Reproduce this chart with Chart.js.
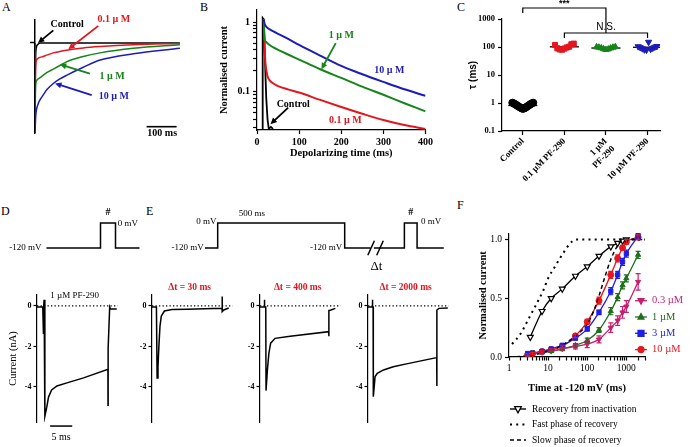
<!DOCTYPE html>
<html>
<head>
<meta charset="utf-8">
<script src="https://cdn.jsdelivr.net/npm/chart.js@4.4.1/dist/chart.umd.min.js"></script>
<style>
  html, body { margin: 0; padding: 0; background: #fff; }
  #fig { position: relative; width: 695px; height: 447px; overflow: hidden; font-family: 'Liberation Serif', 'Times New Roman', serif; }
  .lbl { position: absolute; font-size: 12px; color: #000; line-height: 14px; }
</style>
</head>
<body>
<div id="fig">
  <div class="lbl" style="left:2px;top:0px">A</div>
  <div class="lbl" style="left:200px;top:0px">B</div>
  <div class="lbl" style="left:457px;top:0px">C</div>
  <div class="lbl" style="left:1px;top:204px">D</div>
  <div class="lbl" style="left:146px;top:204px">E</div>
  <div class="lbl" style="left:457px;top:198px">F</div>
</div>
<script>
const SERIF = "'Liberation Serif', 'Times New Roman', serif";
const SANS = "'Liberation Sans', Arial, sans-serif";

// ---------- A: normalised current traces (ms, fraction of peak) ----------
const timeA = [0, 0.2, 0.7, 1.2, 2, 3, 5, 10, 17, 27, 39, 61, 83, 105, 161, 217, 328, 483];
const ctrlA = [0, -1, -0.55, -0.32, -0.15, -0.08, -0.04, -0.015, 0, 0, 0, 0, 0, 0, 0, 0, 0, 0];
const pf01A = [0, -1, -0.6, -0.4, -0.27, -0.22, -0.19, -0.17, -0.16, -0.15, -0.135, -0.11, -0.095, -0.08, -0.055, -0.04, -0.02, -0.005];
const pf1A  = [0, -1, -0.75, -0.6, -0.48, -0.44, -0.42, -0.4, -0.385, -0.36, -0.33, -0.29, -0.25, -0.21, -0.15, -0.11, -0.06, -0.02];
const pf10A = [0, -1, -0.95, -0.9, -0.84, -0.79, -0.74, -0.68, -0.63, -0.58, -0.52, -0.45, -0.4, -0.36, -0.27, -0.19, -0.12, -0.06];

// ---------- B: normalised current on log scale ----------
const timeB  = [16, 18, 20, 23, 26, 30, 40, 50, 75, 100, 150, 200, 250, 300, 350, 400];
const pf10B  = [1.1, 0.95, 0.9, 0.85, 0.82, 0.79, 0.73, 0.68, 0.57, 0.47, 0.33, 0.235, 0.178, 0.138, 0.108, 0.087];
const pf1B   = [1.1, 0.57, 0.53, 0.51, 0.49, 0.47, 0.43, 0.4, 0.34, 0.29, 0.21, 0.158, 0.118, 0.09, 0.068, 0.052];
const pf01B  = [1.1, 0.42, 0.26, 0.19, 0.16, 0.145, 0.13, 0.12, 0.107, 0.097, 0.076, 0.06, 0.048, 0.039, 0.033, 0.029];
const timeBctl = [13, 13.5, 16, 18, 20, 22, 25, 28, 33, 38];
const ctrlB    = [0.02, 1.15, 1.1, 0.45, 0.18, 0.08, 0.04, 0.029, 0.031, 0.029];

// ---------- C: tau (ms) ----------
const catC = ['Control', '0.1 µM PF-290', ['1 µM', 'PF-290'], '10 µM PF-290'];
const tauCtl = [1.02, 0.97, 0.91, 0.85, 0.79, 0.74, 0.69, 0.65, 0.62, 0.64, 0.68, 0.73, 0.79, 0.85, 0.91, 0.97, 1.02];
const tau01 = [118, 90, 82, 80, 88, 96, 102, 125, 132];
const tau1  = [100, 97, 92, 85, 80, 84, 91, 97, 101];
const tau10 = [104, 96, 88, 80, 78, 150, 84, 92, 100, 106];

// ---------- D / E: voltage protocols (schematic ms, mV) ----------
const tProtD = [0, 36, 36, 46, 46, 62];
const vProtD = [-120, -120, 0, 0, -120, -120];
const tProtE = [0, 50, 50, 550, 550, 652, 658, 665, 785, 785, 835, 835, 940];
const vProtE = [-120, -120, 0, 0, -120, -120, null, -120, -120, 0, 0, -120, -120];

// ---------- D / E: current traces (ms, nA) ----------
const tD = [0, 1.3, 1.45, 1.5, 1.6, 1.75, 1.8, 2.2, 2.6, 3.3, 4.5, 6.75, 10.5, 16.0, 16.02, 16.05, 16.4, 16.6, 18.0];
const iD = [-0.05, -0.05, -1.35, -0.05, 0.3, 0.3, -5.45, -5.0, -4.5, -4.15, -3.95, -3.8, -3.55, -3.13, -4.9, -2.1, -0.05, -0.15, -0.15];
const tE1 = [0, 1.0, 1.15, 1.35, 1.55, 1.8, 2.1, 2.8, 4.5, 8, 15.8, 15.82, 15.86, 16.2, 17.3];
const iE1 = [-0.05, -0.05, -3.56, -3.0, -2.0, -1.0, -0.5, -0.25, -0.18, -0.16, -0.12, 0.46, -0.28, -0.2, -0.1];
const tE2 = [0, 0.95, 1.0, 1.05, 1.3, 1.36, 1.67, 2.0, 2.4, 3.4, 6.8, 15.5, 15.52, 15.56, 16, 17];
const iE2 = [-0.05, -0.05, 0.3, -0.05, -0.05, -4.18, -3.16, -2.34, -1.84, -1.6, -1.5, -1.27, -1.5, -0.23, -0.2, -0.12];
const tE3 = [0, 0.95, 1.0, 1.05, 1.15, 1.2, 1.6, 2.1, 3.5, 5.7, 8.7, 15.5, 15.52, 15.56, 16, 18];
const iE3 = [-0.05, -0.05, 0.3, -0.05, -0.05, -4.48, -3.49, -3.33, -3.16, -3.0, -2.86, -2.55, -3.95, -0.2, -0.12, -0.1];

// ---------- F: recovery from inactivation ----------
const timeRec = [3.5, 7, 12, 23, 50, 100, 200, 400, 600, 800, 1000];
const recov   = [0.17, 0.39, 0.5, 0.58, 0.69, 0.77, 0.86, 0.94, 0.97, 0.99, 1.0];
const timeFast = [1.2, 2, 3, 4.5, 6, 7.6, 10, 15, 20, 25, 35, 50, 3000];
const fastRec  = [0.11, 0.2, 0.31, 0.42, 0.5, 0.57, 0.67, 0.77, 0.84, 0.89, 0.96, 1.0, 1.0];
const timeSlow = [1, 3, 10, 20, 50, 100, 150, 200, 270, 400, 600, 800, 3000];
const slowRec  = [0, 0.01, 0.05, 0.09, 0.18, 0.28, 0.4, 0.52, 0.66, 0.83, 0.95, 1.0, 1.0];
const timeF = [3, 4, 7, 12, 23, 50, 100, 200, 400, 600, 800, 1000, 2000];
const rec03 = [0.02, 0.03, 0.04, 0.05, 0.07, 0.09, 0.11, 0.15, 0.25, 0.31, 0.38, 0.43, 0.64];
const err03 = [0.01, 0.01, 0.01, 0.01, 0.015, 0.02, 0.03, 0.03, 0.04, 0.04, 0.05, 0.05, 0.07];
const rec1  = [0.02, 0.03, 0.04, 0.05, 0.07, 0.1, 0.14, 0.23, 0.39, 0.51, 0.61, 0.67, 0.87];
const err1  = [0.01, 0.01, 0.01, 0.01, 0.01, 0.015, 0.02, 0.02, 0.03, 0.03, 0.03, 0.03, 0.03];
const rec3  = [0.03, 0.035, 0.05, 0.07, 0.1, 0.16, 0.24, 0.38, 0.56, 0.7, 0.81, 0.88, 1.03];
const err3  = [0.01, 0.01, 0.01, 0.01, 0.01, 0.015, 0.02, 0.02, 0.03, 0.03, 0.03, 0.03, 0.02];
const rec10 = [0.02, 0.03, 0.045, 0.06, 0.09, 0.18, 0.3, 0.48, 0.7, 0.84, 0.93, 0.98, 1.02];
const err10 = [0.01, 0.01, 0.01, 0.01, 0.01, 0.015, 0.02, 0.03, 0.03, 0.03, 0.02, 0.02, 0.02];

const RED = '#e3161e', GREEN = '#17841a', BLUE = '#1c1cb8';

Chart.defaults.font.family = SERIF;
Chart.defaults.color = '#000';

const pts = (xs, ys) => xs.map((x, i) => ({ x: x, y: ys[i] }));

function place(left, top, w, h) {
    const d = document.createElement('div');
    d.style.cssText = `position:absolute;left:${left}px;top:${top}px;width:${w}px;height:${h}px`;
    const c = document.createElement('canvas');
    d.appendChild(c);
    document.getElementById('fig').appendChild(d);
    return c;
}

function trace(xs, ys, color, width, extra) {
    return Object.assign({
        data: pts(xs, ys), borderColor: color, backgroundColor: color,
        borderWidth: width || 1.5, pointRadius: 0, showLine: true, spanGaps: false
    }, extra || {});
}

// visible axis with fixed size, hand-picked ticks
function axis(o) {
    return {
        type: o.type || 'linear', min: o.min, max: o.max, position: o.pos,
        afterFit: s => { if (o.pos === 'left') s.width = o.size; else s.height = o.size; },
        afterBuildTicks: s => { s.ticks = o.ticks.map(v => ({ value: v })); },
        border: { display: true, color: '#000', width: o.bw || 1.2 },
        grid: { drawOnChartArea: false, drawTicks: true, tickLength: o.tl || 4, tickColor: '#000', tickWidth: o.bw || 1.2 },
        ticks: {
            display: !!o.labels, autoSkip: false, padding: o.tp || 2, font: o.font, color: '#000',
            callback: o.labels || (() => ''), maxRotation: o.rot || 0, minRotation: o.rot || 0
        },
        title: o.title ? { display: true, text: o.title, font: o.tfont, padding: o.tpad, color: '#000' } : { display: false }
    };
}
const hidden = (min, max, type) => ({ type: type || 'linear', display: false, min: min, max: max });

function makeChart(box, datasets, scales, pad, plugins) {
    return new Chart(place(box[0], box[1], box[2], box[3]), {
        type: 'scatter',
        data: { datasets: datasets },
        options: {
            responsive: true, maintainAspectRatio: false, animation: false, events: [],
            layout: { autoPadding: false, padding: pad },
            plugins: { legend: { display: false }, tooltip: { enabled: false } },
            scales: scales
        },
        plugins: plugins || []
    });
}

// labels, arrows and brackets placed in data coordinates
function notes(n) {
    return {
        id: 'notes',
        afterDraw(chart) {
            const ctx = chart.ctx, sx = chart.scales.x, sy = chart.scales.y;
            const X = v => sx.getPixelForValue(v), Y = v => sy.getPixelForValue(v);
            ctx.save();
            (n.lines || []).forEach(l => {
                ctx.beginPath();
                ctx.strokeStyle = l.color || '#000';
                ctx.lineWidth = l.width || 1.2;
                l.pts.forEach((p, i) => i ? ctx.lineTo(X(p[0]), Y(p[1])) : ctx.moveTo(X(p[0]), Y(p[1])));
                ctx.stroke();
            });
            (n.arrows || []).forEach(a => {
                const x1 = X(a.from[0]), y1 = Y(a.from[1]), x2 = X(a.to[0]), y2 = Y(a.to[1]);
                const ang = Math.atan2(y2 - y1, x2 - x1), h = 7;
                ctx.strokeStyle = ctx.fillStyle = a.color;
                ctx.lineWidth = 1.8;
                ctx.beginPath();
                ctx.moveTo(x1, y1);
                ctx.lineTo(x2 - Math.cos(ang) * h * 0.7, y2 - Math.sin(ang) * h * 0.7);
                ctx.stroke();
                ctx.beginPath();
                ctx.moveTo(x2, y2);
                ctx.lineTo(x2 - h * Math.cos(ang - 0.45), y2 - h * Math.sin(ang - 0.45));
                ctx.lineTo(x2 - h * Math.cos(ang + 0.45), y2 - h * Math.sin(ang + 0.45));
                ctx.closePath();
                ctx.fill();
            });
            (n.texts || []).forEach(t => {
                ctx.font = t.font;
                ctx.fillStyle = t.color || '#000';
                ctx.textAlign = t.align || 'center';
                ctx.textBaseline = 'middle';
                ctx.fillText(t.text, X(t.at[0]), Y(t.at[1]));
            });
            ctx.restore();
        }
    };
}

const bold = s => `bold ${s}px ${SERIF}`;
const reg = s => `${s}px ${SERIF}`;

// ================= A =================
makeChart([0, 0, 190, 150], [
    trace(timeA, pf10A, BLUE, 1.5, { cubicInterpolationMode: 'monotone' }),
    trace(timeA, pf1A, GREEN, 1.5, { cubicInterpolationMode: 'monotone' }),
    trace(timeA, pf01A, RED, 1.5, { cubicInterpolationMode: 'monotone' }),
    trace(timeA, ctrlA, '#000', 1.6, { cubicInterpolationMode: 'monotone' })
], {
    x: hidden(0, 500),
    y: axis({ pos: 'left', size: 35, min: -1.0, max: 0.255, ticks: [0], tl: 5, bw: 1.5 })
}, { top: 20, right: 5, bottom: 17, left: 0 }, [notes({
    lines: [{ pts: [[372, -0.93], [472, -0.93]], width: 1.6 }],
    arrows: [
        { from: [61, 0.14], to: [10, 0.0], color: '#000' },
        { from: [211, 0.19], to: [111, -0.07], color: RED },
        { from: [183, -0.34], to: [83, -0.24], color: GREEN },
        { from: [189, -0.58], to: [67, -0.45], color: BLUE }
    ],
    texts: [
        { text: 'Control', at: [107, 0.21], font: bold(10) },
        { text: '0.1 µ M', at: [263, 0.256], font: bold(10), color: RED },
        { text: '1 µ M', at: [257, -0.367], font: bold(10), color: GREEN },
        { text: '10 µ M', at: [263, -0.589], font: bold(10), color: BLUE },
        { text: '100 ms', at: [424, -1.0], font: bold(10) }
    ]
})]);

// ================= B =================
makeChart([200, 0, 235, 165], [
    trace(timeB, pf10B, BLUE, 2, { cubicInterpolationMode: 'monotone' }),
    trace(timeB, pf1B, GREEN, 2, { cubicInterpolationMode: 'monotone' }),
    trace(timeB, pf01B, RED, 2, { cubicInterpolationMode: 'monotone' }),
    trace(timeBctl, ctrlB, '#000', 1.8)
], {
    x: axis({ pos: 'bottom', size: 35, min: 0, max: 400, ticks: [0, 100, 200, 300, 400],
        labels: v => String(v), font: { size: 10, weight: 'bold' },
        title: 'Depolarizing time (ms)', tfont: { size: 10.5, weight: 'bold' }, tpad: { top: 0, bottom: 5.7 } }),
    y: axis({ type: 'logarithmic', pos: 'left', size: 57, min: 0.028, max: 1.5,
        ticks: [0.03, 0.04, 0.05, 0.06, 0.07, 0.08, 0.09, 0.1, 0.2, 0.3, 0.4, 0.5, 0.6, 0.7, 0.8, 0.9, 1],
        labels: v => (v === 1 ? '1' : v === 0.1 ? '0.1' : ''), font: { size: 10, weight: 'bold' }, tp: 3,
        title: 'Normalised current', tfont: { size: 10.5, weight: 'bold' }, tpad: { top: 17.7, bottom: 0 } })
}, { top: 10, right: 5, bottom: 0, left: 0 }, [notes({
    arrows: [
        { from: [187, 0.5], to: [153, 0.21], color: GREEN },
        { from: [74, 0.059], to: [32, 0.034], color: '#000' }
    ],
    texts: [
        { text: '1 µ M', at: [200, 0.65], font: bold(10), color: GREEN },
        { text: '10 µ M', at: [314, 0.2], font: bold(10), color: BLUE },
        { text: 'Control', at: [86, 0.065], font: bold(10) },
        { text: '0.1 µ M', at: [210, 0.039], font: bold(10), color: RED }
    ]
})]);

// ================= C =================
function swarm(vals, i, w) {
    return vals.map((v, k) => ({ x: i + (k / (vals.length - 1) - 0.5) * w, y: v }));
}
const mean = a => a.reduce((s, v) => s + v, 0) / a.length;
const groupsC = [
    { vals: tauCtl, color: '#000', style: 'circle', rot: 0, w: 0.5 },
    { vals: tau01, color: RED, style: 'rect', rot: 0, w: 0.45 },
    { vals: tau1, color: GREEN, style: 'triangle', rot: 0, w: 0.45 },
    { vals: tau10, color: BLUE, style: 'triangle', rot: 180, w: 0.45 }
];
const dataC = [];
groupsC.forEach((g, i) => {
    dataC.push({ data: swarm(g.vals, i, g.w), pointStyle: g.style, pointRotation: g.rot, pointRadius: 3.6,
        pointBackgroundColor: g.color, pointBorderColor: g.color, pointBorderWidth: 1 });
    dataC.push(trace([i - 0.35, i + 0.35], [mean(g.vals), mean(g.vals)], '#000', 1.3));
});
makeChart([435, 0, 260, 215], dataC, {
    x: axis({ pos: 'bottom', size: 84, min: -0.5, max: 3.3, ticks: [0, 1, 2, 3], rot: 45,
        labels: v => catC[v], font: { size: 9, weight: 'bold' }, tp: 1 }),
    y: axis({ type: 'logarithmic', pos: 'left', size: 67, min: 0.1, max: 1000, ticks: [0.1, 1, 10, 100, 1000],
        labels: v => String(v), font: { size: 8.5, weight: 'bold' }, tp: 3,
        title: 'τ (ms)', tfont: { family: SANS, size: 10, weight: 'bold' }, tpad: { top: 32, bottom: 0 } })
}, { top: 19, right: 35, bottom: 0, left: 0 }, [notes({
    lines: [
        { pts: [[0, 1640], [0, 2470], [2, 2470], [2, 316]] },
        { pts: [[1, 210], [1, 316], [3, 316], [3, 210]] }
    ],
    texts: [
        { text: '***', at: [1, 3700], font: `bold 9px ${SANS}` },
        { text: 'N.S.', at: [2, 520], font: `10px ${SANS}` }
    ]
})]);

// ================= D / E protocols =================
makeChart([0, 205, 150, 70], [trace(tProtD, vProtD, '#000', 1.5)], {
    x: hidden(-31, 69), y: hidden(-249.6, 86.4)
}, 0, [notes({
    texts: [
        { text: '-120 mV', at: [-3.3, -118], font: reg(9), align: 'right' },
        { text: '0 mV', at: [47.5, -5], font: reg(9), align: 'left' },
        { text: '#', at: [41, 50], font: bold(10) }
    ]
})]);

makeChart([150, 205, 300, 70], [trace(tProtE, vProtE, '#000', 1.5)], {
    x: hidden(-216.5, 964.6), y: hidden(-249.6, 86.4)
}, 0, [notes({
    lines: [
        { pts: [[641, -155], [667, -85]], width: 1.5 },
        { pts: [[676, -155], [702, -85]], width: 1.5 }
    ],
    texts: [
        { text: '-120 mV', at: [-5, -118], font: reg(9), align: 'right' },
        { text: '0 mV', at: [45, 5], font: reg(9), align: 'right' },
        { text: '500 ms', at: [185, 43], font: reg(9) },
        { text: '-120 mV', at: [540, -118], font: reg(9), align: 'right' },
        { text: 'Δt', at: [675, -210], font: reg(13) },
        { text: '#', at: [810, 50], font: bold(10) },
        { text: '0 mV', at: [850, 5], font: reg(9), align: 'left' }
    ]
})]);

// ================= D / E currents =================
function currentChart(left, t, i, opts) {
    const yAxis = axis({ pos: 'left', size: 37, min: -5.73, max: 0.54, ticks: [0, -2, -4],
        labels: v => String(v), font: { size: 8, weight: 'bold' }, tl: 3.5, tp: 2,
        title: opts.ytitle, tfont: { size: 10.5 }, tpad: { top: 6.7, bottom: 0 } });
    const n = { texts: [{ text: opts.title, at: [8.5, opts.ty], font: opts.tfont, color: opts.tcolor }], lines: [] };
    if (opts.bar) {
        n.lines.push({ pts: [[2.95, -5.93], [7.95, -5.93]], width: 1.5 });
        n.texts.push({ text: '5 ms', at: [5.45, -6.5], font: reg(10) });
    }
    makeChart([left, 280, 119, 167], [
        trace([0, 18.2], [0, 0], '#000', 1.3, { borderDash: [1.3, 2.2] }),
        trace(t, i, '#000', 1.5)
    ], { x: hidden(0, 18.5), y: yAxis }, { top: 15, right: 0, bottom: 25, left: 0 }, [notes(n)]);
}
currentChart(0, tD, iD, { ytitle: 'Current (nA)', title: '1 µM PF-290', ty: 0.5, tfont: reg(9), tcolor: '#000', bar: true });
currentChart(115, tE1, iE1, { title: 'Δt = 30 ms', ty: 0.89, tfont: bold(9.5), tcolor: RED });
currentChart(223, tE2, iE2, { title: 'Δt = 400 ms', ty: 0.89, tfont: bold(9.5), tcolor: RED });
currentChart(331, tE3, iE3, { title: 'Δt = 2000 ms', ty: 0.89, tfont: bold(9.5), tcolor: RED });

// ================= F =================
const drugF = [
    { label: '0.3 µM', color: '#c81e6e', style: 'triangle', rot: 180, vals: rec03, errs: err03 },
    { label: '1 µM', color: '#1e6e1e', style: 'triangle', rot: 0, vals: rec1, errs: err1 },
    { label: '3 µM', color: '#1e1ee6', style: 'rect', rot: 0, vals: rec3, errs: err3 },
    { label: '10 µM', color: '#e8161e', style: 'circle', rot: 0, vals: rec10, errs: err10 }
];
const DOTS = [2, 4.2];

function marker(ctx, style, rot, x, y, r, fill, stroke) {
    ctx.beginPath();
    if (style === 'circle') ctx.arc(x, y, r, 0, Math.PI * 2);
    else if (style === 'rect') ctx.rect(x - r, y - r, 2 * r, 2 * r);
    else {
        const s = rot ? -1 : 1;
        ctx.moveTo(x, y - s * r * 1.15);
        ctx.lineTo(x + r, y + s * r * 0.7);
        ctx.lineTo(x - r, y + s * r * 0.7);
        ctx.closePath();
    }
    ctx.fillStyle = fill; ctx.fill();
    ctx.strokeStyle = stroke; ctx.lineWidth = 1.2; ctx.stroke();
}

const errBars = {
    id: 'errBars',
    afterDatasetsDraw(chart) {
        const ctx = chart.ctx, sx = chart.scales.x, sy = chart.scales.y;
        chart.data.datasets.forEach(ds => {
            if (!ds.errs) return;
            ctx.save();
            ctx.strokeStyle = ds.borderColor;
            ctx.lineWidth = 1.2;
            ds.data.forEach((p, k) => {
                const x = sx.getPixelForValue(p.x);
                const y1 = sy.getPixelForValue(p.y - ds.errs[k]), y2 = sy.getPixelForValue(p.y + ds.errs[k]);
                ctx.beginPath();
                ctx.moveTo(x, y1); ctx.lineTo(x, y2);
                ctx.moveTo(x - 2.5, y1); ctx.lineTo(x + 2.5, y1);
                ctx.moveTo(x - 2.5, y2); ctx.lineTo(x + 2.5, y2);
                ctx.stroke();
            });
            ctx.restore();
        });
    }
};

const legendF = {
    id: 'legendF',
    afterDraw(chart) {
        const ctx = chart.ctx, a = chart.chartArea;
        ctx.save();
        ctx.textBaseline = 'middle';
        ctx.textAlign = 'left';
        ctx.font = reg(10.5);
        drugF.forEach((s, i) => {
            const x = a.right - 10, y = a.top + 67 + i * 16.3;
            ctx.strokeStyle = s.color; ctx.lineWidth = 1.3;
            ctx.beginPath(); ctx.moveTo(x, y); ctx.lineTo(x + 12, y); ctx.stroke();
            marker(ctx, s.style, s.rot, x + 6, y, 3, s.color, s.color);
            ctx.fillStyle = s.color;
            ctx.fillText(s.label, x + 17, y);
        });
        const rows = [
            { text: 'Recovery from inactivation', dash: [], w: 1.4, mark: true },
            { text: 'Fast phase of recovery', dash: DOTS, w: 2, mark: false },
            { text: 'Slow phase of recovery', dash: [4, 3], w: 1.5, mark: false }
        ];
        ctx.font = reg(9.5);
        rows.forEach((r, i) => {
            const x = a.left + 1, y = a.bottom + 52 + i * 15.5;
            ctx.strokeStyle = '#000';
            ctx.lineWidth = r.w;
            ctx.setLineDash(r.dash);
            ctx.beginPath(); ctx.moveTo(x, y); ctx.lineTo(x + 16, y); ctx.stroke();
            ctx.setLineDash([]);
            if (r.mark) marker(ctx, 'triangle', 180, x + 8, y, 3.4, '#fff', '#000');
            ctx.fillStyle = '#000';
            ctx.fillText(r.text, x + 22, y);
        });
        ctx.restore();
    }
};

const dataF = [
    trace(timeFast, fastRec, '#000', 2, { borderDash: DOTS, segment: { borderDash: () => DOTS }, cubicInterpolationMode: 'monotone' }),
    trace(timeSlow, slowRec, '#000', 1.5, { borderDash: [4, 3], cubicInterpolationMode: 'monotone' }),
    trace(timeRec, recov, '#000', 1.3, { cubicInterpolationMode: 'monotone', pointRadius: 3.4, pointStyle: 'triangle',
        pointRotation: 180, pointBackgroundColor: '#fff', pointBorderColor: '#000', pointBorderWidth: 1.2 })
];
drugF.forEach(s => {
    dataF.push(trace(timeF, s.vals, s.color, 1.3, {
        cubicInterpolationMode: 'monotone', pointRadius: 3, pointStyle: s.style, pointRotation: s.rot,
        pointBackgroundColor: s.color, pointBorderColor: s.color, pointBorderWidth: 1, errs: s.errs
    }));
});
makeChart([460, 225, 235, 222], dataF, {
    x: axis({ type: 'logarithmic', pos: 'bottom', size: 90, min: 1, max: 3000,
        ticks: [1, 2, 3, 4, 5, 6, 7, 8, 9, 10, 20, 30, 40, 50, 60, 70, 80, 90, 100, 200, 300, 400, 500, 600, 700, 800, 900, 1000, 2000, 3000],
        labels: v => ([1, 10, 100, 1000].includes(v) ? String(v) : ''), font: { size: 9.5 }, tl: 3.5, tp: 2,
        title: 'Time at -120 mV (ms)', tfont: { size: 10.5, weight: 'bold' }, tpad: { top: 0, bottom: 52.7 } }),
    y: axis({ pos: 'left', size: 49, min: 0, max: 1.05, ticks: [0, 0.5, 1],
        labels: v => v.toFixed(1), font: { size: 9.5 }, tp: 3,
        title: 'Normalised current', tfont: { size: 10.5, weight: 'bold' }, tpad: { top: 16.7, bottom: 0 } })
}, { top: 6, right: 50, bottom: 0, left: 0 }, [errBars, legendF]);
</script>
</body>
</html>
